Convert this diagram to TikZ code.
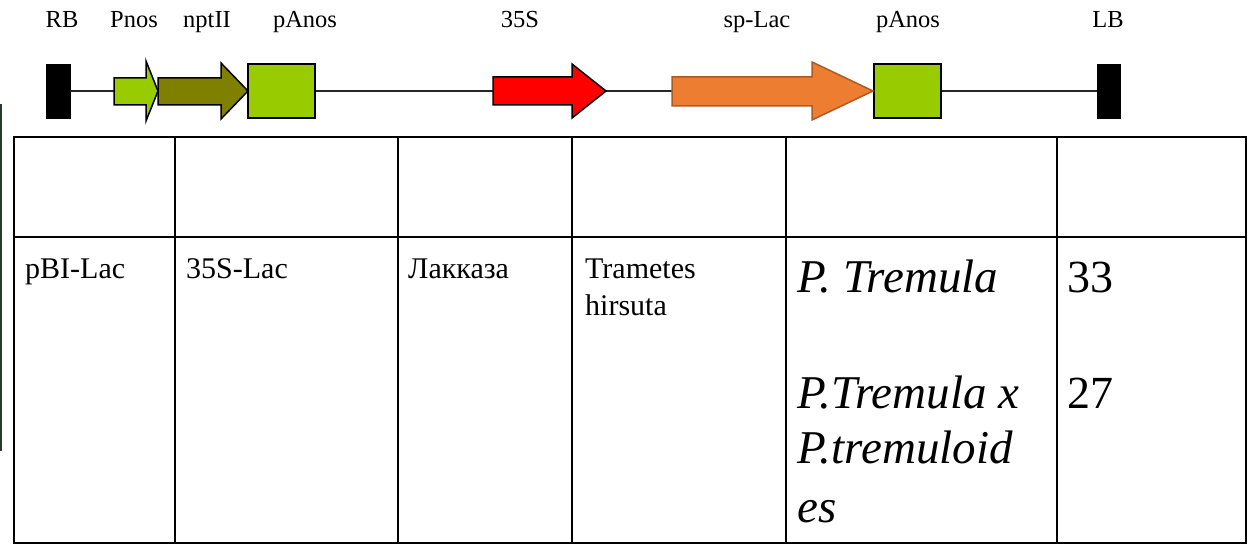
\documentclass[tikz,border=0pt]{standalone}
\usepackage{fontspec}
\setmainfont{Liberation Serif}
\definecolor{lime}{HTML}{99CC00}
\definecolor{olivec}{HTML}{808000}
\definecolor{orangec}{HTML}{ED7D31}
\definecolor{orangeb}{HTML}{AE5A21}
\definecolor{stripc}{HTML}{2B3A2B}
\tikzset{
  toplabel/.style={anchor=base, inner sep=0pt, font=\fontsize{24.5}{28}\selectfont},
  cellt/.style={anchor=base west, inner sep=0pt, font=\fontsize{30}{37}\selectfont},
  cellbig/.style={anchor=base west, inner sep=0pt, font=\frenchspacing\itshape\fontsize{47}{55}\selectfont},
  cellnum/.style={anchor=base west, inner sep=0pt, font=\fontsize{46}{55}\selectfont},
  border/.style={draw=black, fill=black, inner sep=0pt, minimum width=24pt, minimum height=54pt},
  term/.style={draw=black, fill=lime, line width=1.5pt, inner sep=0pt, minimum width=67pt, minimum height=54pt},
  gene/.style={draw=black, line width=1.5pt},
  backbone/.style={draw=black!85, line width=1.2pt},
  grid/.style={draw=black, line width=2pt},
}
\begin{document}
\begin{tikzpicture}[x=1pt,y=-1pt]
\useasboundingbox (0,0) rectangle (1249,545);
% stray edge strip
\fill[stripc] (0,104) rectangle (2,451);
% construct elements
\node[border] (RB) at (58,91) {};
\node[border, minimum width=23pt] (LB) at (1108.5,91) {};
\draw[backbone] (RB.east) -- (LB.west);
\node[term] (pA1) at (281.5,91) {};
\node[term] (pA2) at (907.5,91) {};
\coordinate (pnosTip) at (158,91);
\coordinate (nptTip) at (248,91);
\coordinate (s35Tip) at (606,91);
\coordinate (spTip) at (873,91);
\filldraw[gene, fill=lime] (114,78) -- (146,78) -- (146,61) -- (pnosTip) -- (146,121) -- (146,105) -- (114,105) -- cycle;
\filldraw[gene, fill=olivec] (158,78) -- (221,78) -- (221,63) -- (nptTip) -- (221,119) -- (221,105) -- (158,105) -- cycle;
\filldraw[gene, fill=red] (493,77) -- (572,77) -- (572,64) -- (s35Tip) -- (572,118) -- (572,105) -- (493,105) -- cycle;
\filldraw[draw=orangeb, fill=orangec, line width=1.5pt] (672,77) -- (812,77) -- (812,62) -- (spTip) -- (812,120) -- (812,106) -- (672,106) -- cycle;
% labels
\node[toplabel] (lRB) at (62,28) {RB};
\node[toplabel] (lPnos) at (134,28) {Pnos};
\node[toplabel] (lnpt) at (207,28) {nptII};
\node[toplabel] (lpA1) at (305,28) {pAnos};
\node[toplabel] (l35) at (520,28) {35S};
\node[toplabel] (lsp) at (757,28) {sp-Lac};
\node[toplabel] (lpA2) at (908,28) {pAnos};
\node[toplabel] (lLB) at (1108,28) {LB};
% table
\draw[grid] (14,137) rectangle (1246,543);
\draw[grid] (14,237) -- (1246,237);
\foreach \cx in {175,398,572,786,1057} \draw[grid] (\cx,137) -- (\cx,543);
\node[cellt] (c1) at (25,278) {pBI-Lac};
\node[cellt] (c2) at (186,278) {35S-Lac};
\node[cellt] (c3) at (408,278) {Лакказа};
\node[cellt] (c4a) at (585,278) {Trametes};
\node[cellt] (c4b) at (585,315) {hirsuta};
\node[cellbig] (c5a) at (797,292) {P. Tremula};
\node[cellbig] (c5b) at (797,408) {P.Tremula x};
\node[cellbig] (c5c) at (797,463) {P.tremuloid};
\node[cellbig] (c5d) at (797,522) {es};
\node[cellnum] (c6a) at (1067,292) {33};
\node[cellnum] (c6b) at (1067,408) {27};
\end{tikzpicture}
\end{document}
